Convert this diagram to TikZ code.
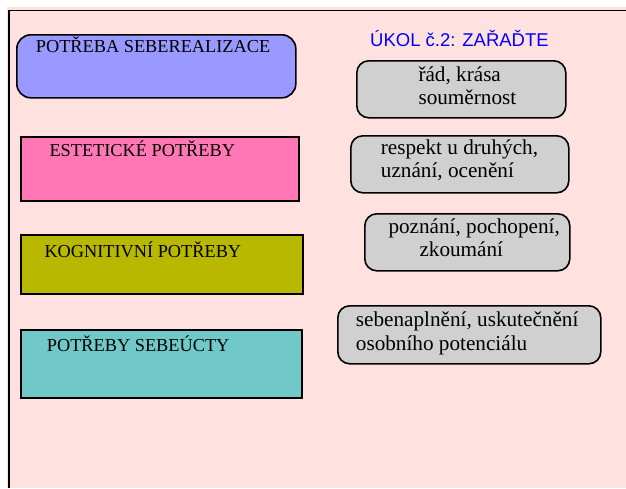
\documentclass[tikz,border=0pt]{standalone}
\usepackage{fontspec}
\setmainfont{Liberation Serif}
\newfontfamily\arialf{Liberation Sans}
\definecolor{bgpink}{HTML}{FFE2DF}
\definecolor{bluebox}{HTML}{9999FF}
\definecolor{pinkbox}{HTML}{FF77B5}
\definecolor{olivebox}{HTML}{B8B800}
\definecolor{tealbox}{HTML}{70C8C8}
\definecolor{graybox}{HTML}{D0D0D0}
\definecolor{titleblue}{HTML}{0000FF}
\begin{document}
\begin{tikzpicture}[x=1pt,y=-1pt,
  need/.style={draw=black,line width=1.6pt,inner sep=0,anchor=north west},
  opt/.style={draw=black,line width=1.6pt,fill=graybox,inner sep=0,anchor=north west,rounded corners=12pt},
  lt/.style={anchor=base west,inner sep=0,font=\fontsize{18.3}{21}\selectfont},
  rt/.style={anchor=base west,inner sep=0,font=\fontsize{21.2}{24}\selectfont}]
\useasboundingbox (0,0) rectangle (626,488);
\fill[white] (0,0) rectangle (626,488);
\fill[bgpink] (7,7) rectangle (626,488);
\draw[line width=1.8pt] (9,488) -- (9,10.5) -- (626,10.5);
% left boxes
\node[need,fill=bluebox,rounded corners=14pt,minimum width=279pt,minimum height=63pt] (b1) at (16,34) {};
\node[need,fill=pinkbox,minimum width=278pt,minimum height=64pt] (b2) at (20,136) {};
\node[need,fill=olivebox,minimum width=282pt,minimum height=59pt] (b3) at (20,234) {};
\node[need,fill=tealbox,minimum width=281pt,minimum height=68pt] (b4) at (20,329) {};
\node[lt] (t1) at (35.7,52) {POTŘEBA SEBEREALIZACE};
\node[lt] (t2) at (49.3,156) {ESTETICKÉ POTŘEBY};
\node[lt] (t3) at (44.3,257.7) {KOGNITIVNÍ POTŘEBY};
\node[lt] (t4) at (46.7,351.7) {POTŘEBY SEBEÚCTY};
% right side
\node[anchor=base west,inner sep=0,font=\arialf\fontsize{18.5}{21}\selectfont,text=titleblue] (title) at (370,46.7) {ÚKOL č.2: ZAŘAĎTE};
\node[opt,minimum width=209pt,minimum height=57pt] (o1) at (356,60) {};
\node[opt,minimum width=218pt,minimum height=57pt] (o2) at (350,135) {};
\node[opt,minimum width=205pt,minimum height=57pt] (o3) at (364,213) {};
\node[opt,minimum width=263pt,minimum height=58pt] (o4) at (337,305) {};
\node[rt] (a1) at (418.3,81.7) {řád, krása};
\node[rt] (a2) at (418.3,104.5) {souměrnost};
\node[rt] (c1) at (380.7,154.3) {respekt u druhých,};
\node[rt] (c2) at (380.7,177.3) {uznání, ocenění};
\node[rt] (d1) at (388.3,233.3) {poznání, pochopení,};
\node[rt] (d2) at (419.3,256) {zkoumání};
\node[rt] (e1) at (355.7,326) {sebenaplnění, uskutečnění};
\node[rt] (e2) at (355.7,350) {osobního potenciálu};
\end{tikzpicture}
\end{document}
